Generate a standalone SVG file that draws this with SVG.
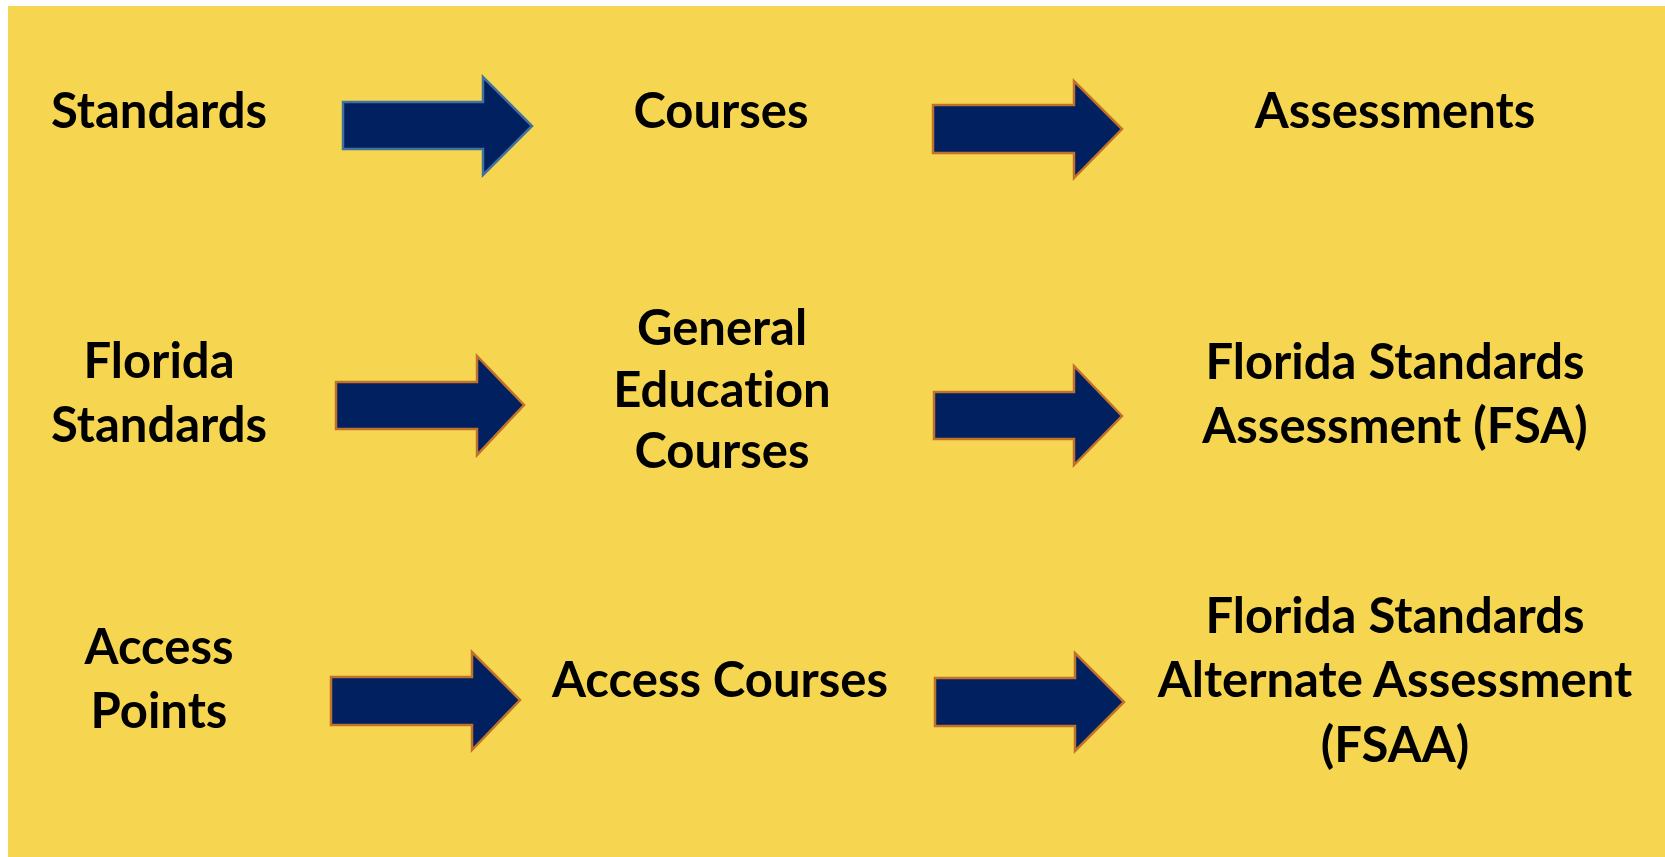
<svg xmlns="http://www.w3.org/2000/svg" width="1665" height="857" viewBox="0 0 1665 857">
  <style>
    .lbl { font-family: Lato, "Liberation Sans", sans-serif; font-weight: bold; font-size: 49px; fill: #000; text-anchor: middle; font-variant-ligatures: none; font-feature-settings: "liga" 0; }
    .arrow { fill: #002060; stroke-width: 2.5; stroke-linejoin: miter; }
    .arrow-blue { stroke: #41719c; }
    .arrow-orange { stroke: #c0712a; }
  </style>

  <!-- page and panel -->
  <rect x="0" y="0" width="1665" height="857" fill="#ffffff"/>
  <rect x="8" y="6" width="1657" height="851" fill="#f6d651"/>

  <!-- block arrows between columns -->
  <g id="connectors">
    <polygon class="arrow arrow-blue" points="343,102 483,102 483,77 532,126 483,175 483,149 343,149"/>
    <polygon class="arrow arrow-orange" points="933,105 1074,105 1074,81 1122,129 1074,178 1074,153 933,153"/>
    <polygon class="arrow arrow-orange" points="336,382 477,382 477,356 524,405 477,455 477,429 336,429"/>
    <polygon class="arrow arrow-orange" points="934,392 1074,392 1074,366 1122,416 1074,465 1074,439 934,439"/>
    <polygon class="arrow arrow-orange" points="331,677 472,677 472,652 520,700 472,750 472,725 331,725"/>
    <polygon class="arrow arrow-orange" points="935,678 1075,678 1075,653 1124,702 1075,751 1075,726 935,726"/>
  </g>

  <!-- header row -->
  <g id="standards"><text class="lbl" x="159" y="128">Standards</text></g>
  <g id="courses"><text class="lbl" x="721" y="128">Courses</text></g>
  <g id="assessments"><text class="lbl" x="1395" y="128">Assessments</text></g>

  <!-- general education row -->
  <g id="florida-standards">
    <text class="lbl" x="159" y="378">Florida</text>
    <text class="lbl" x="159" y="442">Standards</text>
  </g>
  <g id="general-education-courses">
    <text class="lbl" x="722" y="345">General</text>
    <text class="lbl" x="722" y="407">Education</text>
    <text class="lbl" x="722" y="468">Courses</text>
  </g>
  <g id="fsa">
    <text class="lbl" x="1395" y="379">Florida Standards</text>
    <text class="lbl" x="1395" y="443">Assessment (FSA)</text>
  </g>

  <!-- access row -->
  <g id="access-points">
    <text class="lbl" x="159" y="664">Access</text>
    <text class="lbl" x="159" y="728">Points</text>
  </g>
  <g id="access-courses"><text class="lbl" x="720" y="697">Access Courses</text></g>
  <g id="fsaa">
    <text class="lbl" x="1395" y="633">Florida Standards</text>
    <text class="lbl" x="1395" y="697">Alternate Assessment</text>
    <text class="lbl" x="1395" y="762">(FSAA)</text>
  </g>
</svg>
